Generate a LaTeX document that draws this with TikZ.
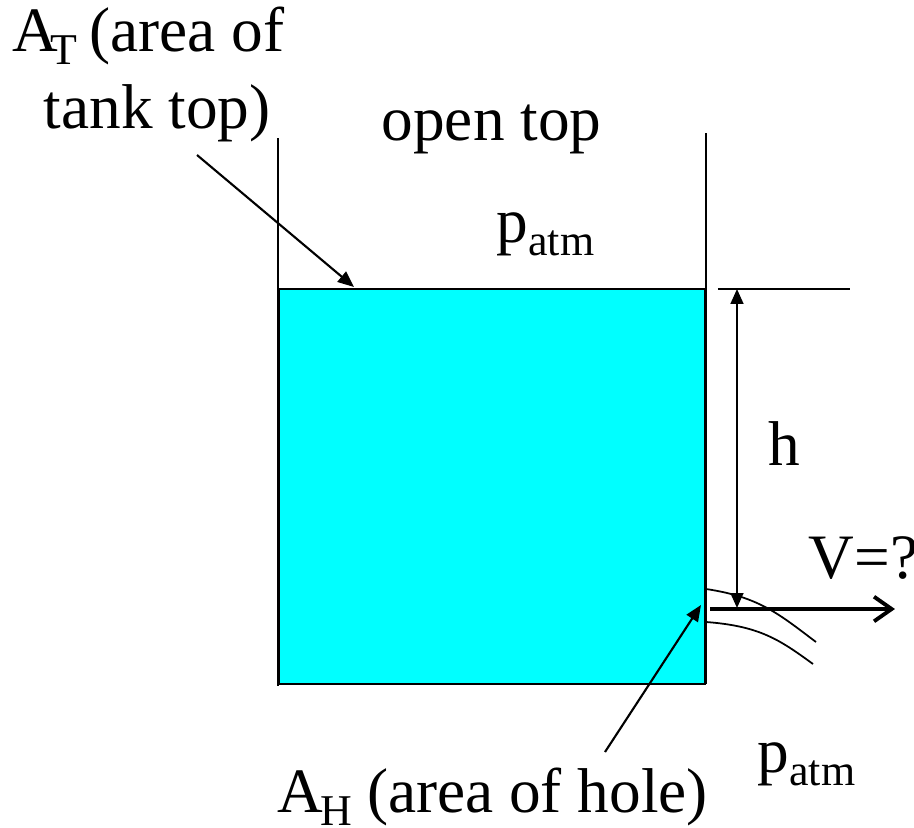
\documentclass[tikz,border=0pt]{standalone}
\usepackage{fontspec}
\setmainfont{Liberation Serif}
\newfontfamily\tankfont{Liberation Serif}
\usepackage{tikz}
\usetikzlibrary{arrows.meta}
\definecolor{TankCyan}{RGB}{0,255,255}
\newcommand{\lowsub}[1]{\raisebox{-0.22em}{\fontsize{12.5}{13}\selectfont #1}}

\begin{document}
\begin{tikzpicture}[
      lbl/.style={anchor=base west, inner sep=0pt, font=\tankfont\fontsize{18}{21}\selectfont},
      wall/.style={line width=0.45pt},
      ptr/.style={-{Triangle[length=4.6pt, width=3.8pt]}, line width=0.6pt},
      dim/.style={{Triangle[length=4.2pt, width=3.6pt]}-{Triangle[length=4.2pt, width=3.6pt]},
                  line width=0.6pt},
      flow/.style={-{Straight Barb[length=5pt, width=7pt, line width=1.1pt]}, line width=1.1pt},
      jet/.style={line width=0.5pt}
    ]
    \useasboundingbox (0,0) rectangle (9.14,8.27);

    % Water in the tank
    \fill[TankCyan] (2.79,1.43) rectangle (7.05,5.38);
    \draw[line width=0.7pt] (2.79,1.43) rectangle (7.05,5.38);

    % Tank walls (open top)
    \draw[wall] (2.78,6.89) -- (2.78,1.41);
    \draw[wall] (7.06,6.94) -- (7.06,1.43);

    % Free jet leaving the hole
    \draw[jet] (7.06,2.38) .. controls (7.60,2.30) and (7.80,2.12) .. (8.16,1.85);
    \draw[jet] (7.06,2.05) .. controls (7.60,2.01) and (7.80,1.87) .. (8.13,1.63);

    % Labels
    \node[lbl] (attxt) at (0.12,7.76) {A\kern-0.12em\lowsub{T}\kern-0.06em{} (area of};
    \node[lbl] (tanktxt) at (0.43,6.99) {tank top)};
    \node[lbl] (opentxt) at (3.81,6.87) {open top};
    \node[lbl] (ptop) at (4.96,5.85) {p\lowsub{atm}};
    \node[lbl] (htxt) at (7.68,3.62) {h};
    \node[lbl] (vtxt) at (8.08,2.49) {V=?};
    \node[lbl] (pbot) at (7.57,0.55) {p\lowsub{atm}};
    \node[lbl] (ahtxt) at (2.77,0.15) {A\kern-0.04em\lowsub{H}\kern-0.02em{} (area of hole)};

    % Pointers
    \coordinate (atfrom) at (1.97,6.72);
    \coordinate (atto) at (3.54,5.40);
    \draw[ptr] (atfrom) -- (atto);
    \coordinate (ahfrom) at (6.05,0.75);
    \coordinate (ahto) at (7.01,2.22);
    \draw[ptr] (ahfrom) -- (ahto);

    % Height h
    \coordinate (hleft) at (7.18,5.38);
    \coordinate (hright) at (8.50,5.38);
    \draw[line width=0.6pt] (hleft) -- (hright);
    \coordinate (htop) at (7.37,5.38);
    \coordinate (hbot) at (7.37,2.19);
    \draw[dim] (htop) -- (hbot);

    % Exit velocity
    \coordinate (vfrom) at (7.10,2.18);
    \coordinate (vto) at (8.95,2.18);
    \draw[flow] (vfrom) -- (vto);
  \end{tikzpicture}
\end{document}
